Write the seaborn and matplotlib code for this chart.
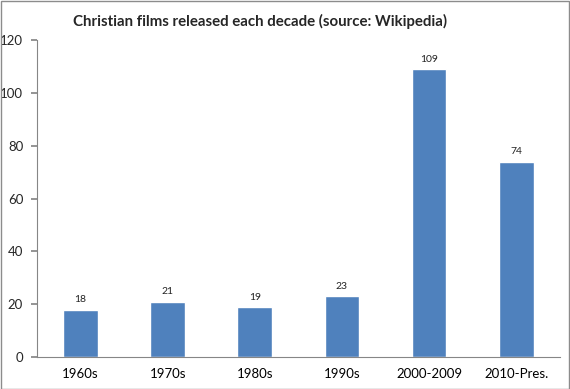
import matplotlib
matplotlib.use("Agg")
import matplotlib.pyplot as plt
import numpy as np
import pandas as pd
import seaborn as sns
from matplotlib.patches import Rectangle

decades = ["1960s", "1970s", "1980s", "1990s", "2000-2009", "2010-Pres."]
films = [18, 21, 19, 23, 109, 74]

sns.set_theme(style="white")
plt.rcParams["font.family"] = ["Lato", "DejaVu Sans"]

df = pd.DataFrame({"decade": decades, "films": films})

fig = plt.figure(figsize=(5.7, 3.89), dpi=100)
ax = fig.add_axes([0.065, 0.082, 0.917, 0.815])

sns.barplot(data=df, x="decade", y="films", color="#4F81BD", width=0.4,
            saturation=1, ax=ax)

for i, v in enumerate(films):
    ax.text(i, v + 2, str(v), ha="center", va="bottom", fontsize=7.5, color="#222222")

ax.set_ylim(0, 120)
ax.set_yticks(range(0, 121, 20))
ax.set_xlim(-0.5, len(decades) - 0.5)
ax.set_xlabel("")
ax.set_ylabel("")

for side in ["top", "right"]:
    ax.spines[side].set_visible(False)
for side in ["left", "bottom"]:
    ax.spines[side].set_color("#868686")
    ax.spines[side].set_linewidth(0.8)

ax.set_xticks(np.arange(-0.5, len(decades), 1), minor=True)
ax.tick_params(axis="x", which="major", length=0, labelsize=9.5, pad=8, colors="#000000")
ax.tick_params(axis="x", which="minor", length=4, color="#868686", direction="out")
ax.tick_params(axis="y", length=4, color="#868686", direction="out", labelsize=9.5,
               left=True, pad=6)

fig.suptitle("Christian films released each decade (source: Wikipedia)",
             fontsize=10.8, fontweight="bold", x=0.456, y=0.965)

fig.patches.append(Rectangle((0.001, 0.001), 0.997, 0.997, transform=fig.transFigure,
                             fill=False, edgecolor="#8C8C8C", linewidth=1))

fig.savefig("out.png", dpi=100)
